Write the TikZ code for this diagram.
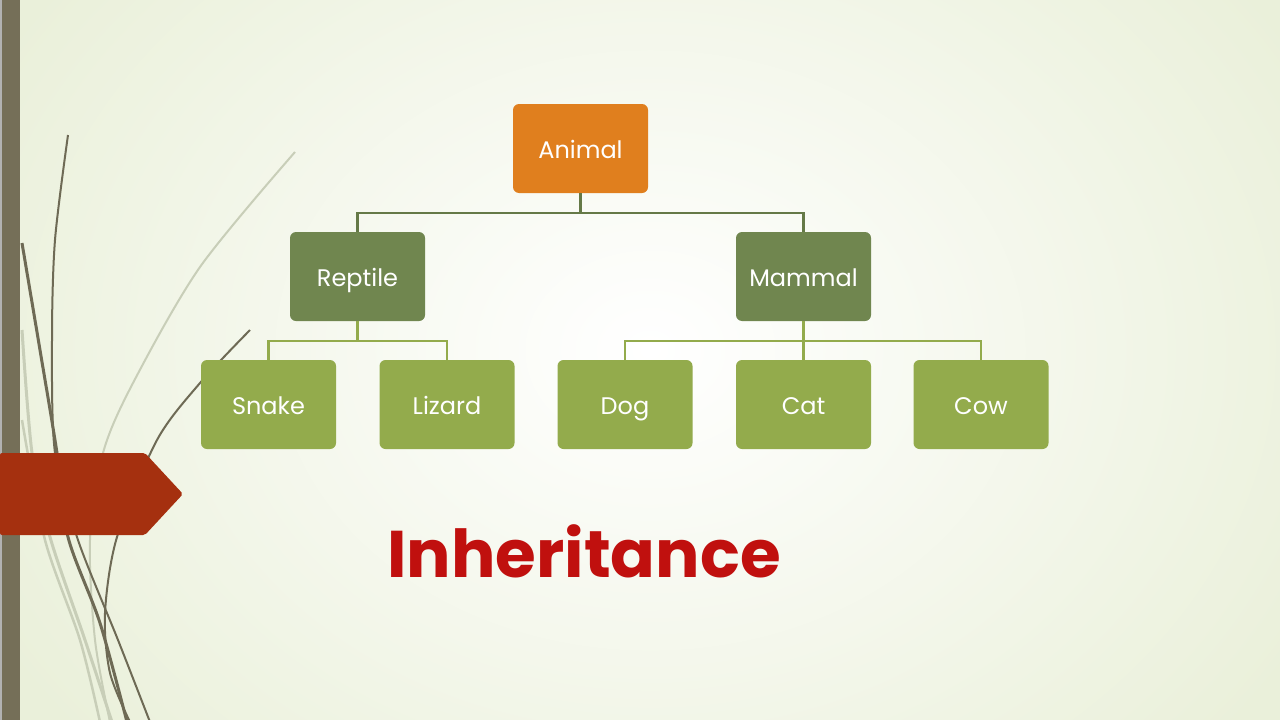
\documentclass[tikz,border=0pt]{standalone}
\usepackage{fontspec}
\setmainfont{Poppins}
\definecolor{bgout}{RGB}{234,240,218}
\definecolor{barcol}{RGB}{117,111,88}
\definecolor{arrowred}{RGB}{165,48,15}
\definecolor{animalc}{RGB}{224,127,30}
\definecolor{midc}{RGB}{112,134,79}
\definecolor{leafc}{RGB}{147,171,76}
\definecolor{darkcurve}{RGB}{110,106,85}
\definecolor{lightcurve}{RGB}{200,206,184}
\definecolor{titlered}{RGB}{192,16,14}
\tikzset{
  box/.style={rectangle, rounded corners=6pt, minimum width=135pt, minimum height=89pt,
    inner sep=0pt, text=white, font=\fontsize{24}{28}\selectfont,
    text height=20pt, text depth=1pt},
  topbox/.style={box, fill=animalc},
  midbox/.style={box, fill=midc},
  leafbox/.style={box, fill=leafc},
  connA/.style={draw=midc!90!black, line width=2.2pt},
  connB/.style={draw=leafc, line width=2.2pt},
  dcurve/.style={draw=darkcurve, line width=#1},
  lcurve/.style={draw=lightcurve, line width=#1},
}
\begin{document}
\begin{tikzpicture}[x=1pt,y=-1pt]
\useasboundingbox (0,0) rectangle (1280,720);
% background
\shade[inner color=white, outer color=bgout] (-100,-250) rectangle (1400,950);
% decorative curves
\draw[lcurve=2pt] plot[smooth] coordinates {(295,152) (200,267) (133,383) (103,453) (90,540) (95,640) (110,722)};
\draw[lcurve=3pt] plot[smooth] coordinates {(22,330) (32,453) (50,537) (85,640) (112,722)};
\draw[lcurve=2.5pt] plot[smooth] coordinates {(22,420) (45,540) (80,640) (100,722)};
\draw[dcurve=3pt] plot[smooth] coordinates {(22,243) (40,350) (57,453) (68,537) (100,623) (127,722)};
\draw[dcurve=2pt] plot[smooth] coordinates {(68,135) (55,240) (52,340) (55,453) (78,540) (118,640) (150,722)};
\draw[dcurve=2pt] plot[smooth] coordinates {(250,330) (200,383) (157,440) (117,537) (105,613) (110,673) (130,722)};
% left bar
\fill[barcol] (2,0) rectangle (20,720);
\fill[gray!60] (0,0) rectangle (2,720);
% red arrow
\fill[arrowred, rounded corners=2pt] (0,453) -- (145,453) -- (183,494) -- (145,535) -- (0,535) -- cycle;
% nodes
\node[topbox] (animal) at (580.5,148.5) {Animal};
\node[midbox] (reptile) at (357.5,276.5) {Reptile};
\node[midbox] (mammal) at (803.5,276.5) {Mammal};
\node[leafbox] (snake) at (268.5,404.5) {Snake};
\node[leafbox] (lizard) at (447,404.5) {Lizard};
\node[leafbox] (dog) at (625,404.5) {Dog};
\node[leafbox] (cat) at (803.5,404.5) {Cat};
\node[leafbox] (cow) at (981,404.5) {Cow};
% connectors
\draw[connA] (animal.south) -- ++(0,20) -| (reptile.north);
\draw[connA] (animal.south) -- ++(0,20) -| (mammal.north);
\draw[connB] (reptile.south) -- ++(0,20) -| (snake.north);
\draw[connB] (reptile.south) -- ++(0,20) -| (lizard.north);
\draw[connB] (mammal.south) -- ++(0,20) -| (dog.north);
\draw[connB] (mammal.south) -- (cat.north);
\draw[connB] (mammal.south) -- ++(0,20) -| (cow.north);
% title
\node[anchor=base, text=titlered, font=\fontsize{66}{76}\selectfont\bfseries, inner sep=0pt] (title) at (584,577) {Inheritance};
\end{tikzpicture}
\end{document}
